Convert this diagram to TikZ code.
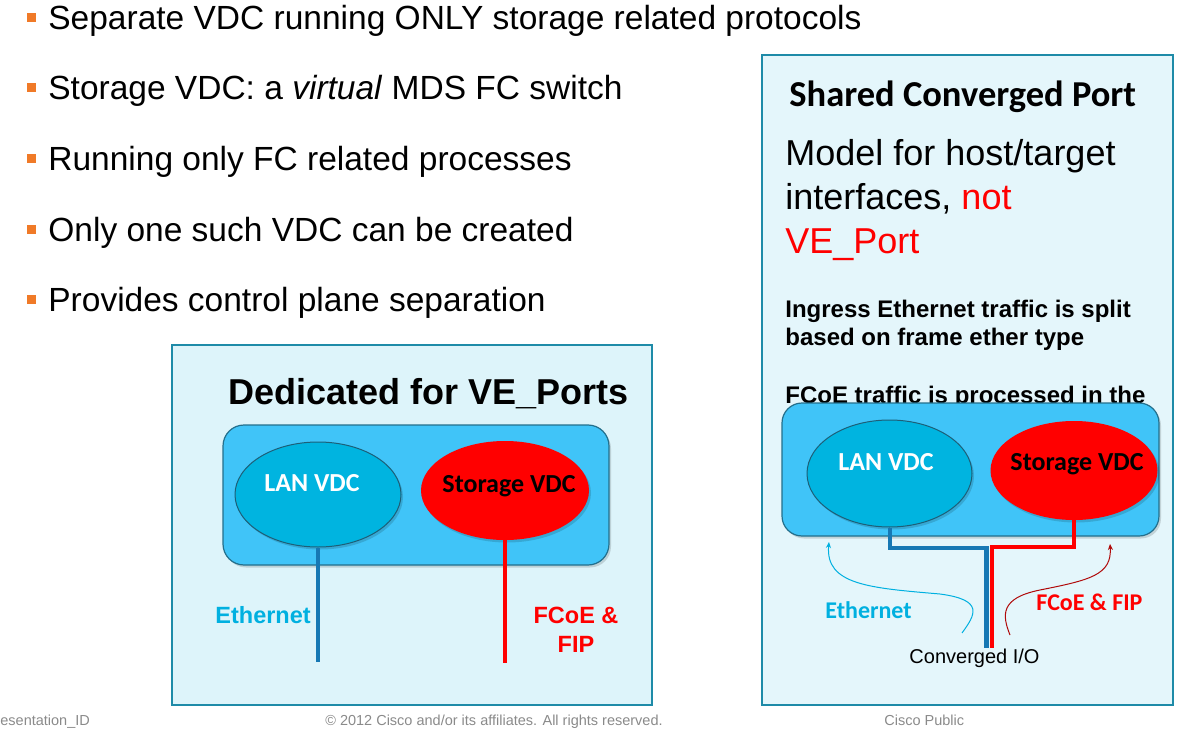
\documentclass[tikz,border=0pt]{standalone}
\usepackage{fontspec}
\setmainfont{Liberation Sans}
\newfontfamily\calibri{Carlito}
\usetikzlibrary{shapes.geometric,shadows,arrows.meta}

\definecolor{cBullet}{HTML}{F07A28}
\definecolor{cFrame}{HTML}{1E8BA8}
\definecolor{cPanelA}{HTML}{DDF4FA}
\definecolor{cPanelB}{HTML}{E4F6FB}
\definecolor{cSwitch}{HTML}{40C4F8}
\definecolor{cSwitchEdge}{HTML}{236F8C}
\definecolor{cLan}{HTML}{00B4E0}
\definecolor{cLanEdge}{HTML}{1D5F78}
\definecolor{cEthLine}{HTML}{1678B4}
\definecolor{cEthText}{HTML}{00B0E0}
\definecolor{cFcRed}{HTML}{FF0000}
\definecolor{cFcCurve}{HTML}{B00A0A}
\definecolor{cFoot}{HTML}{8A8A8A}

\newcommand{\pxsize}[1]{\fontsize{#1}{#1}\selectfont}

\begin{document}
\begin{tikzpicture}[x=1pt, y=-1pt, line width=0.8pt,
	bulletsq/.style={fill=cBullet, draw=none, minimum size=9pt, inner sep=0pt},
	bullettxt/.style={anchor=base west, inner sep=0pt, font=\pxsize{33.5}},
	panel/.style={draw=cFrame, line width=2pt},
	shade/.style={drop shadow={shadow xshift=2pt, shadow yshift=-2.5pt, opacity=0.14, fill=black}},
	switchbox/.style={rounded corners=21pt, fill=cSwitch, draw=cSwitchEdge, line width=1.2pt, shade, inner sep=0pt},
	lanvdc/.style={ellipse, fill=cLan, draw=cLanEdge, line width=1pt, inner sep=0pt, shade},
	stovdc/.style={ellipse, fill=cFcRed, draw=none, inner sep=0pt, shade},
	vdclbl/.style={anchor=base, inner sep=0pt, font=\calibri\bfseries\pxsize{26}},
	modeltxt/.style={anchor=base west, inner sep=0pt, font=\pxsize{36}},
	notetxt/.style={anchor=base west, inner sep=0pt, font=\bfseries\pxsize{24}},
	ethwire/.style={draw=cEthLine, line width=4pt},
	fcwire/.style={draw=cFcRed, line width=4.3pt},
	ethcurve/.style={draw=cEthText, line width=1pt, -{Stealth[length=6pt,width=5pt]}},
	fccurve/.style={draw=cFcCurve, line width=1pt, -{Stealth[length=6pt,width=5pt]}},
	foot/.style={anchor=base, inner sep=0pt, text=cFoot, font=\pxsize{14.5}}]

	\useasboundingbox (0,0) rectangle (1197,733);

	% bullets
	\foreach \txt [count=\i from 0] in {Separate VDC running ONLY storage related protocols,
		{Storage VDC: a \textit{virtual} MDS FC switch},
		Running only FC related processes,
		Only one such VDC can be created,
		Provides control plane separation}{
		\node[bulletsq] (sq\i) at (31.5,{17.5+70.5*\i}) {};
		\node[bullettxt] (bl\i) at (48,{29.5+70.5*\i}) {\txt};
	}

	% panels
	\draw[panel, fill=cPanelA] (172,345) rectangle (652,705);
	\draw[panel, fill=cPanelB] (762,55) rectangle (1173,705);

	% left panel
	\node[anchor=base west, inner sep=0pt, font=\bfseries\pxsize{36}] (dedttl) at (228,404) {Dedicated for VE\_Ports};
	\node[switchbox, minimum width=386pt, minimum height=140pt] (swA) at (416,495) {};
	\node[lanvdc, minimum width=166pt, minimum height=105pt] (lanA) at (318,494.5) {};
	\node[stovdc, minimum width=168pt, minimum height=99pt] (stoA) at (505,490.5) {};
	\node[vdclbl, text=white] (lanAlbl) at (312,491) {LAN VDC};
	\node[vdclbl, text=black] (stoAlbl) at (509,492) {Storage VDC};

	\coordinate (ethEndA) at (318,662);
	\coordinate (fcEndA) at (505,663);
	\draw[ethwire] (lanA.south) -- (ethEndA);
	\draw[fcwire] (stoA.south) -- (fcEndA);

	\node[anchor=base west, inner sep=0pt, font=\bfseries\pxsize{23.5}, text=cEthText] (ethlblA) at (215,623) {Ethernet};
	\node[anchor=base, inner sep=0pt, font=\bfseries\pxsize{23.5}, text=cFcRed] (fclblA1) at (576,623) {FCoE \&};
	\node[anchor=base, inner sep=0pt, font=\bfseries\pxsize{23.5}, text=cFcRed] (fclblA2) at (576,652) {FIP};

	% right panel
	\node[anchor=base west, inner sep=0pt, font=\calibri\bfseries\pxsize{36.5}] (sharedttl) at (789,107) {Shared Converged Port};
	\node[modeltxt] (model1) at (785,165) {Model for host/target};
	\node[modeltxt] (model2) at (785,209) {interfaces, \textcolor{cFcRed}{not}};
	\node[modeltxt, text=cFcRed] (model3) at (785,253) {VE\_Port};
	\node[notetxt] (note1) at (785,317) {Ingress Ethernet traffic is split};
	\node[notetxt] (note2) at (785,345) {based on frame ether type};
	\node[notetxt] (note3) at (785,403) {FCoE traffic is processed in the};

	\node[switchbox, rounded corners=20pt, minimum width=377pt, minimum height=133pt] (swB) at (970.5,469.5) {};
	\node[lanvdc, minimum width=165pt, minimum height=107pt] (lanB) at (889.5,473.5) {};
	\node[stovdc, minimum width=167pt, minimum height=99pt] (stoB) at (1074,470.5) {};
	\node[vdclbl, text=white] (lanBlbl) at (886,470) {LAN VDC};
	\node[vdclbl, text=black] (stoBlbl) at (1077,470) {Storage VDC};

	\coordinate (cioB) at (986.5,648);
	\coordinate (cioR) at (992,648);
	\draw[fcwire, line width=4pt] (stoB.south) -- ++(0,27) -| (cioR);
	\draw[ethwire] (lanB.south) -- ++(0,20.5) -| (cioB);
	\draw[ethwire, line width=5pt] (cioB |- 0,547.5) -- (cioB);

	\coordinate (ethTail) at (962,633);
	\coordinate (ethTip) at (829,542);
	\coordinate (fcTail) at (1010,635);
	\coordinate (fcTip) at (1110,544);
	\draw[ethcurve] (ethTail) .. controls (975,615) and (985,600) .. (940,594)
		.. controls (870,588) and (825,585) .. (ethTip);
	\draw[fccurve] (fcTail) .. controls (1002,615) and (1000,598) .. (1040,590)
		.. controls (1090,580) and (1112,575) .. (fcTip);

	\node[anchor=base west, inner sep=0pt, font=\calibri\bfseries\pxsize{24}, text=cEthText] (ethlblB) at (825,618) {Ethernet};
	\node[anchor=base west, inner sep=0pt, font=\calibri\bfseries\pxsize{24}, text=cFcRed] (fclblB) at (1036,610) {FCoE \& FIP};
	\node[anchor=base, inner sep=0pt, font=\pxsize{20}] (ciolbl) at (974.5,663) {Converged I/O};

	% footer
	\node[foot, anchor=base west] (footid) at (0,725) {esentation\_ID};
	\node[foot] (footcopy) at (494,725) {\textcopyright{} 2012 Cisco and/or its affiliates. All rights reserved.};
	\node[foot, anchor=base west] (footpub) at (884,725) {Cisco Public};

\end{tikzpicture}
\end{document}
